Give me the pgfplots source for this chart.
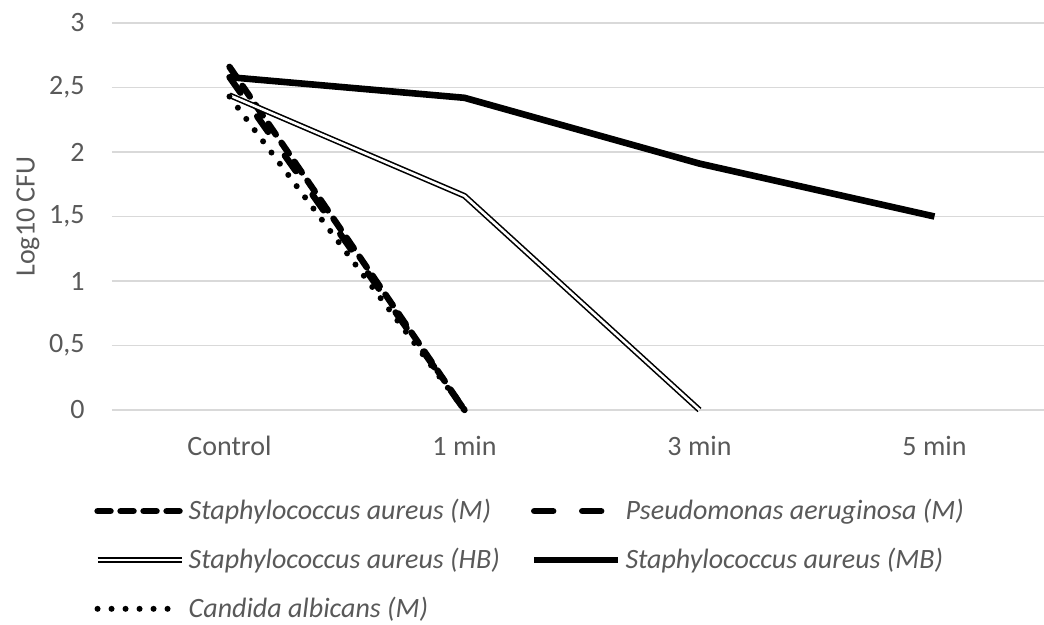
\documentclass[border=0pt]{standalone}
\usepackage{fontspec}
\setmainfont{Carlito}
\usepackage{pgfplots}
\pgfplotsset{compat=1.18}
\definecolor{txt}{HTML}{595959}
\definecolor{grd}{HTML}{D9D9D9}
\begin{document}
\begin{tikzpicture}
\begin{axis}[
 at={(0,0)}, anchor=south west,
 scale only axis, width=466pt, height=193.5pt,
 xmin=-0.5, xmax=3.466, ymin=0, ymax=3,
 clip=false,
 xtick={0,1,2,3}, xticklabels={Control,1 min,3 min,5 min},
 ytick={0,0.5,1,1.5,2,2.5,3},
 /pgf/number format/.cd, use comma, assume math mode=true, /pgfplots/.cd,
 major tick length=0pt,
 ymajorgrids, grid style={grd, line width=0.75pt},
 axis line style={draw=none},
 tick label style={font=\fontsize{14}{17}\selectfont, text=txt},
 xticklabel style={anchor=center, inner sep=0pt, yshift=-18pt},
 yticklabel style={anchor=east, inner sep=0pt, xshift=-13.5pt},
 ylabel={Log10 CFU},
 ylabel style={at={(axis description cs:-0.0901,0.5)}, anchor=center, font=\fontsize{14}{17}\selectfont, text=txt},
 legend columns=2,
 legend cell align=left,
 legend style={at={(axis description cs:-0.0258,-0.2093)}, anchor=north west, draw=none, fill=none,
   font=\fontsize{14}{17}\selectfont\itshape, text=txt, row sep=8.7pt,
   /tikz/column 2/.style={column sep=13.5pt}},
 legend image code/.code={\draw[#1] (0pt,0pt) -- (42pt,0pt);},
]
\addplot[black, line width=3.2pt, line cap=round, dash pattern=on 6.5pt off 5pt] coordinates {(0,2.66) (1,0)};
\addlegendentry{Staphylococcus aureus (M)}
\addplot[black, line width=3.2pt, line cap=round, dash pattern=on 9.5pt off 14.5pt] coordinates {(0,2.58) (1,0)};
\addlegendentry{Pseudomonas aeruginosa (M)}
\addplot[black, line width=0.8pt, double=white, double distance=1.3pt, line join=round] coordinates {(0,2.44) (1,1.66) (2,0)};
\addlegendentry{Staphylococcus aureus (HB)}
\addplot[black, line width=3.3pt, line join=round] coordinates {(0,2.58) (1,2.42) (2,1.91) (3,1.50)};
\addlegendentry{Staphylococcus aureus (MB)}
\addplot[black, line width=3pt, line cap=round, dash pattern=on 0pt off 7pt] coordinates {(0,2.43) (1,0)};
\addlegendentry{Candida albicans (M)}
\end{axis}
\pgfresetboundingbox
\path[use as bounding box] (-56pt,-107.5pt) rectangle (466pt,205pt);
\end{tikzpicture}
\end{document}
